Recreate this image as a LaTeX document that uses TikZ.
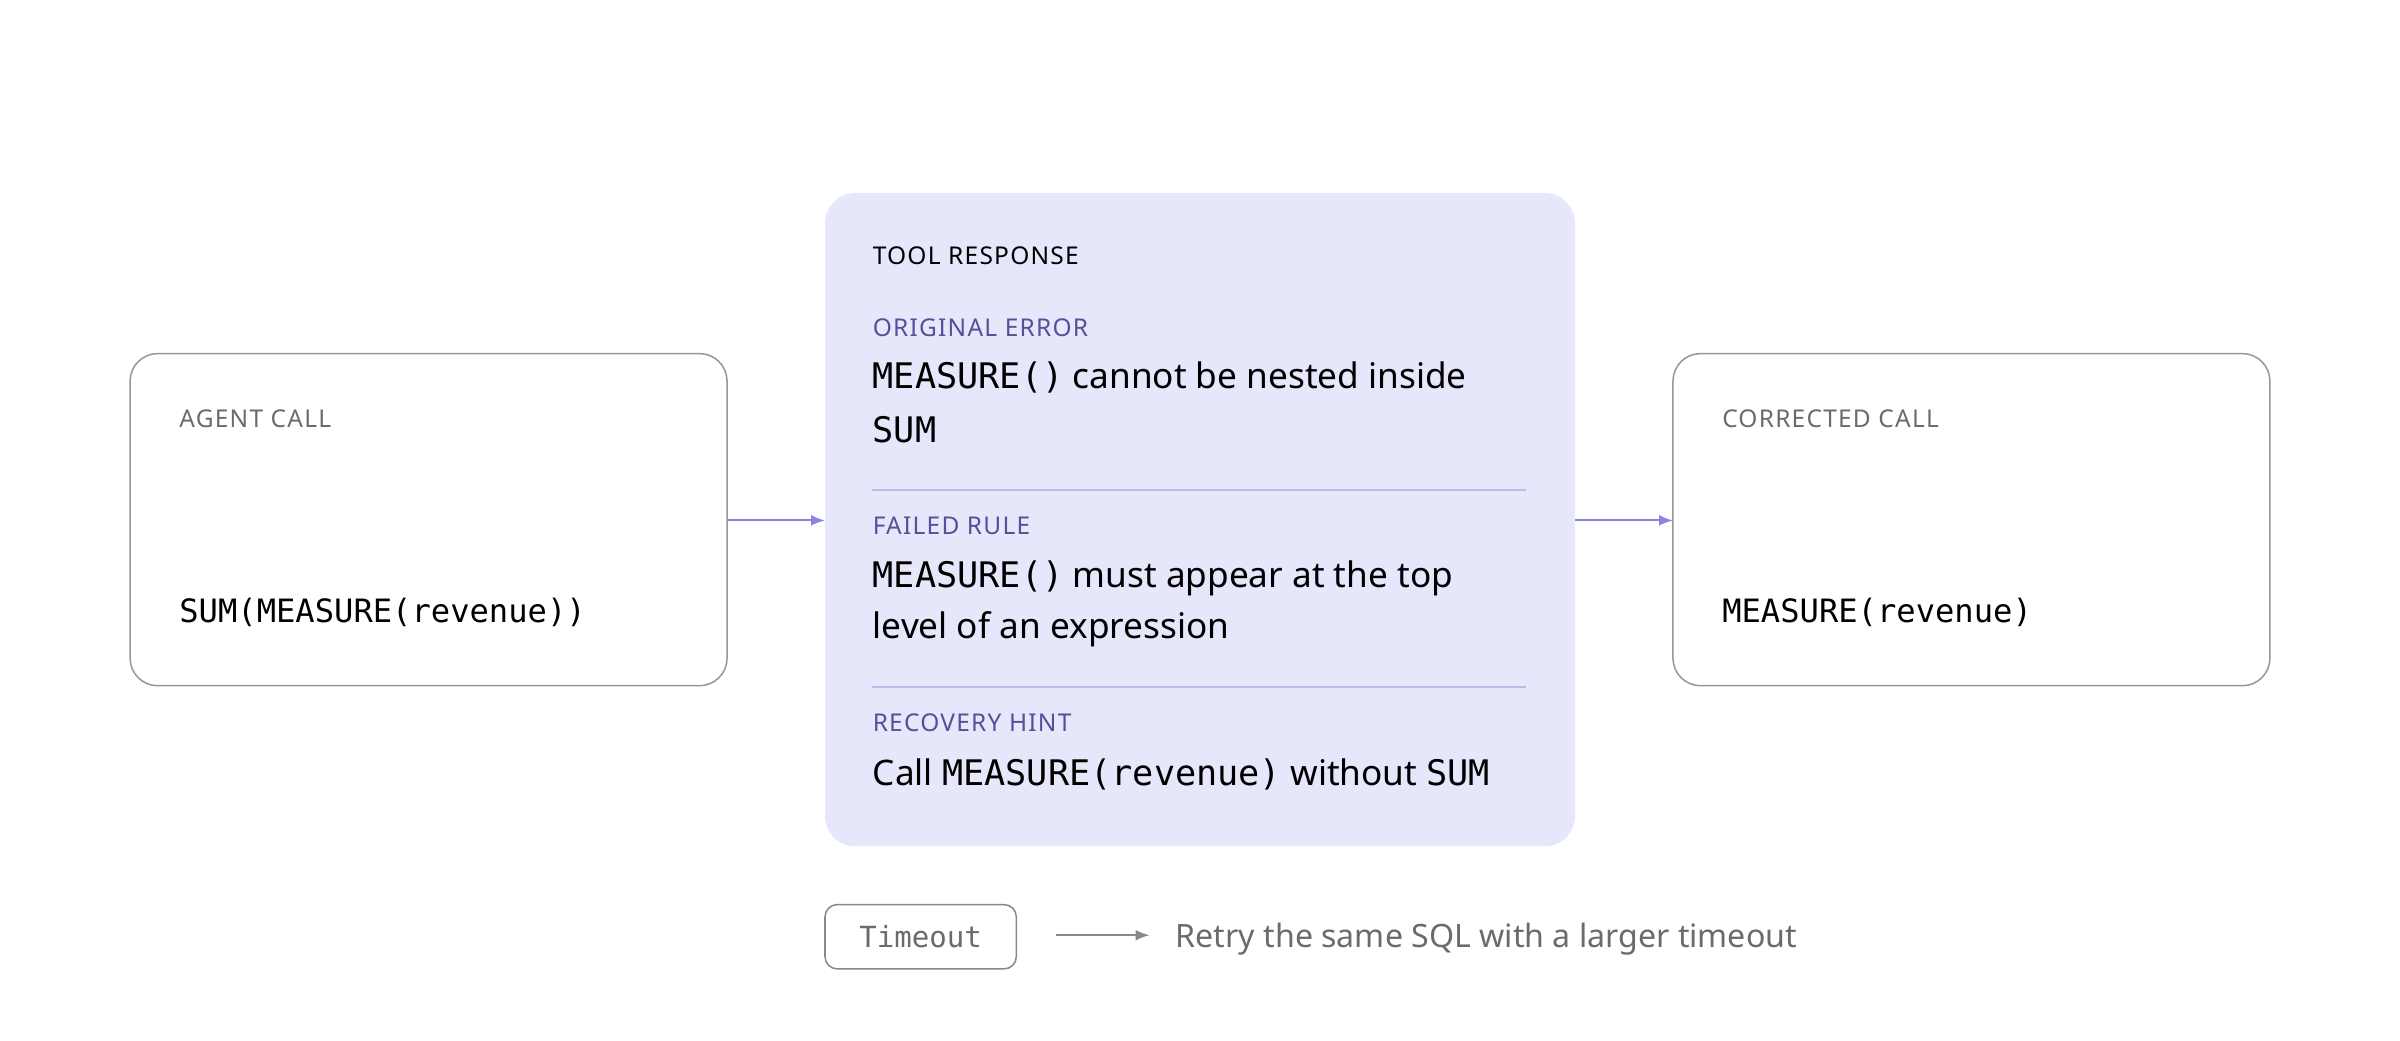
\documentclass[tikz,border=0pt]{standalone}
\usepackage{fontspec}
\setmainfont{Noto Sans}
\setmonofont{DejaVu Sans Mono}
\newfontfamily\lblfont[LetterSpace=5]{Noto Sans}
\usetikzlibrary{arrows.meta}
\definecolor{lav}{HTML}{E7E7FB}
\definecolor{purp}{HTML}{5A4E99}
\definecolor{arr}{HTML}{8B84E0}
\definecolor{gr}{HTML}{6B6B6B}
\definecolor{sep}{HTML}{BDB8F0}
\begin{document}
\begin{tikzpicture}[x=1pt,y=-1pt,
  box/.style={draw=gr!70,line width=1pt,rounded corners=18pt},
  lbl/.style={anchor=base west,inner sep=0,font=\lblfont\fontsize{16}{19}\selectfont},
  body/.style={anchor=base west,inner sep=0,font=\fontsize{23}{28}\selectfont},
  code/.style={anchor=base west,inner sep=0,font=\ttfamily\fontsize{21}{26}\selectfont},
  con/.style={-{Latex[length=9pt,width=7pt]},line width=1.2pt}]
\useasboundingbox (0,0) rectangle (1568,680);
\draw[box] (85,231) rectangle (475,448);
\node[lbl,text=gr] (a1) at (117,279) {AGENT CALL};
\node[code] (a2) at (117,407) {SUM(MEASURE(revenue))};
\fill[lav,rounded corners=20pt] (539,126) rectangle (1029,553);
\coordinate (mL) at (539,340); \coordinate (mR) at (1029,340);
\coordinate (aR) at (475,340); \coordinate (cL) at (1093,340);
\node[lbl] (t0) at (570,173) {TOOL RESPONSE};
\node[lbl,text=purp] (t1) at (570,220) {ORIGINAL ERROR};
\node[body] (t2) at (570,254) {\texttt{MEASURE()} cannot be nested inside};
\node[body] (t3) at (570,289) {\texttt{SUM}};
\draw[sep,line width=1pt] (570,320) -- (997,320);
\node[lbl,text=purp] (t4) at (570,349) {FAILED RULE};
\node[body] (t5) at (570,384) {\texttt{MEASURE()} must appear at the top};
\node[body] (t6) at (570,417) {level of an expression};
\draw[sep,line width=1pt] (570,449) -- (997,449);
\node[lbl,text=purp] (t7) at (570,478) {RECOVERY HINT};
\node[body] (t8) at (570,513) {Call \texttt{MEASURE(revenue)} without \texttt{SUM}};
\draw[box] (1093,231) rectangle (1483,448);
\node[lbl,text=gr] (c1) at (1125,279) {CORRECTED CALL};
\node[code] (c2) at (1125,407) {MEASURE(revenue)};
\draw[con,arr] (aR) -- (mL);
\draw[con,arr] (mR) -- (cL);
\node[draw=gr!80,line width=1pt,rounded corners=8pt,minimum width=125pt,minimum height=42pt,text=gr,font=\ttfamily\fontsize{19}{22}\selectfont] (to) at (601.5,612) {Timeout};
\coordinate (ts) at (690,611);
\node[anchor=base west,inner sep=0,text=gr,font=\fontsize{21}{26}\selectfont] (rt) at (768,619) {Retry the same SQL with a larger timeout};
\draw[con,gr!80] (ts) -- (751,611);
\end{tikzpicture}
\end{document}
